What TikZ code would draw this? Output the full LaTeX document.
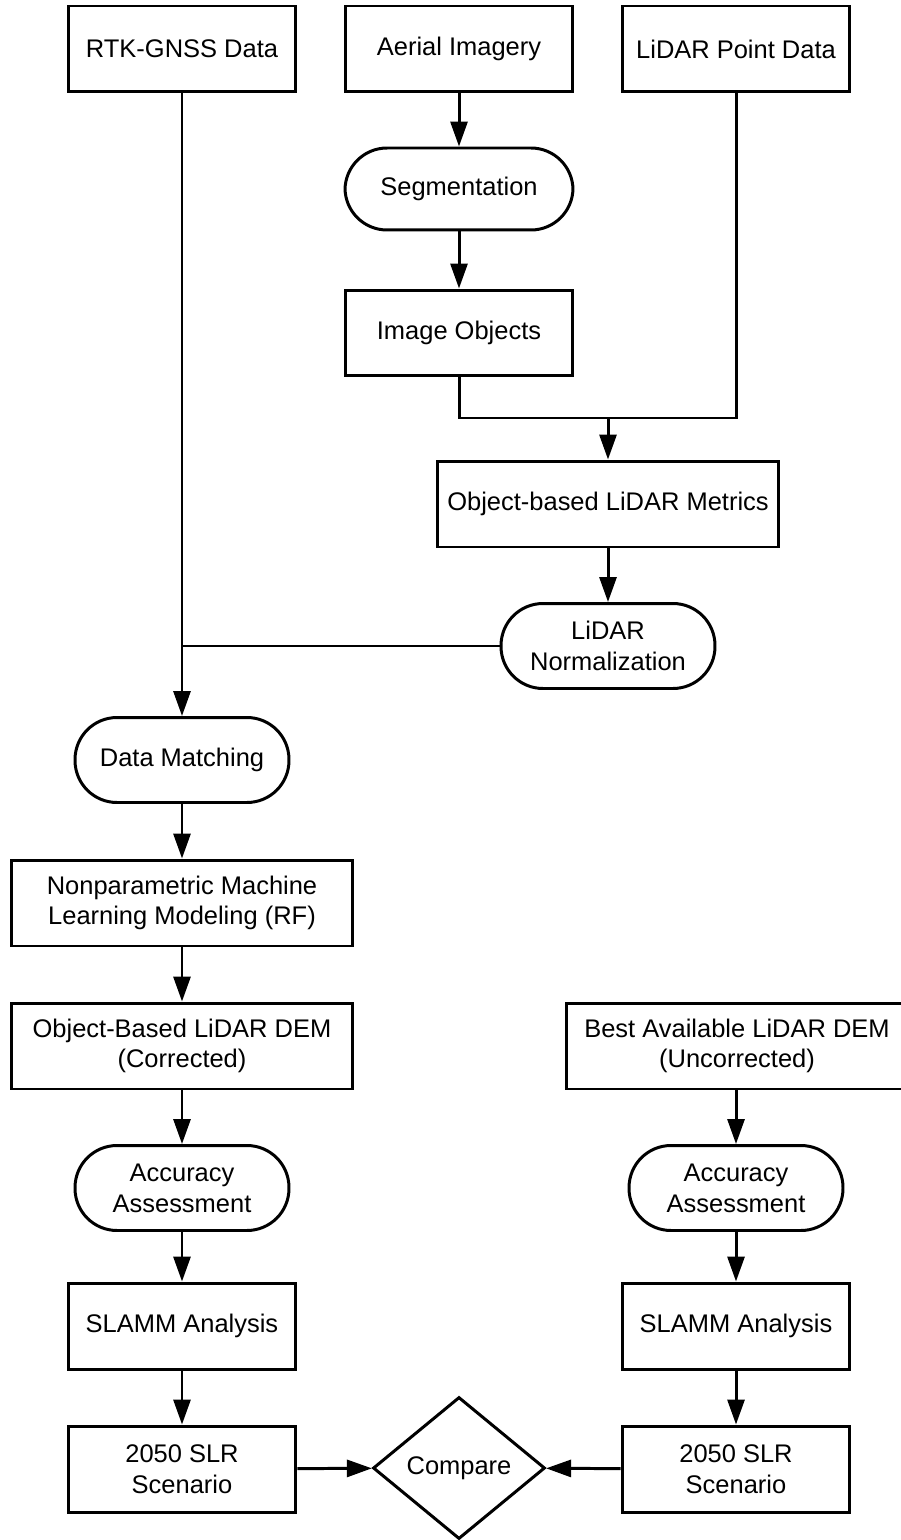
\documentclass[tikz,border=0pt]{standalone}
\usepackage{fontspec}
\setmainfont{Liberation Sans}
\usetikzlibrary{positioning,shapes.geometric,arrows.meta}

\begin{document}
\begin{tikzpicture}[x=0.02cm, y=-0.02cm,
    every node/.style={font=\fontsize{14.5}{17.5}\selectfont, align=center},
    box/.style={draw, line width=1.7pt, minimum width=4.56cm, minimum height=1.72cm},
    widebox/.style={box, minimum width=6.84cm},
    term/.style={draw, line width=1.7pt, rounded corners=0.84cm, minimum width=4.28cm, minimum height=1.7cm},
    link/.style={line width=1.7pt, -{Triangle[length=0.5cm, width=0.34cm]}},
    line/.style={line width=1.7pt}]
\useasboundingbox (0,0) rectangle (901,1540);
\node[box] (rtk) at (182,49) {RTK-GNSS Data};
\node[box] (aerial) at (459,49) {Aerial Imagery};
\node[box] (lidar) at (736,49) {LiDAR Point Data};
\node[term, minimum width=4.56cm, minimum height=1.64cm] (seg) at (459,189) {Segmentation};
\node[box] (imgobj) at (459,333) {Image Objects};
\node[widebox] (metrics) at (608,504) {Object-based LiDAR Metrics};
\node[term] (norm) at (608,646) {LiDAR\\Normalization};
\node[term] (match) at (182,760) {Data Matching};
\node[widebox] (rf) at (182,903) {Nonparametric Machine\\Learning Modeling (RF)};
\node[widebox] (demc) at (182,1046) {Object-Based LiDAR DEM\\(Corrected)};
\node[widebox] (demu) at (737,1046) {Best Available LiDAR DEM\\(Uncorrected)};
\node[term] (acc1) at (182,1188) {Accuracy\\Assessment};
\node[term] (acc2) at (736,1188) {Accuracy\\Assessment};
\node[box] (slamm1) at (182,1326) {SLAMM Analysis};
\node[box] (slamm2) at (736,1326) {SLAMM Analysis};
\node[box] (slr1) at (182,1469) {2050 SLR\\Scenario};
\node[box] (slr2) at (736,1469) {2050 SLR\\Scenario};
\node[draw, diamond, line width=1.7pt, inner sep=0pt, minimum width=3.44cm,
    minimum height=2.84cm] (compare) at (459,1468) {Compare};
\coordinate (join) at (608,418);

\draw[link] (aerial) -- (seg);
\draw[link] (seg) -- (imgobj);
\draw[line] (imgobj.south) |- (join);
\draw[line] (lidar.south) |- (join);
\draw[link] (join) -- (metrics);
\draw[link] (metrics) -- (norm);
\draw[link] (rtk) -- (match);
\draw[line] (norm.west) -- (rtk.south |- norm.west);
\draw[link] (match) -- (rf);
\draw[link] (rf) -- (demc);
\draw[link] (demc) -- (acc1);
\draw[link] (acc1) -- (slamm1);
\draw[link] (slamm1) -- (slr1);
\draw[link] (slr1) -- (compare);
\draw[link] (demu.south -| acc2) -- (acc2);
\draw[link] (acc2) -- (slamm2);
\draw[link] (slamm2) -- (slr2);
\draw[link] (slr2) -- (compare);
\end{tikzpicture}
\end{document}
